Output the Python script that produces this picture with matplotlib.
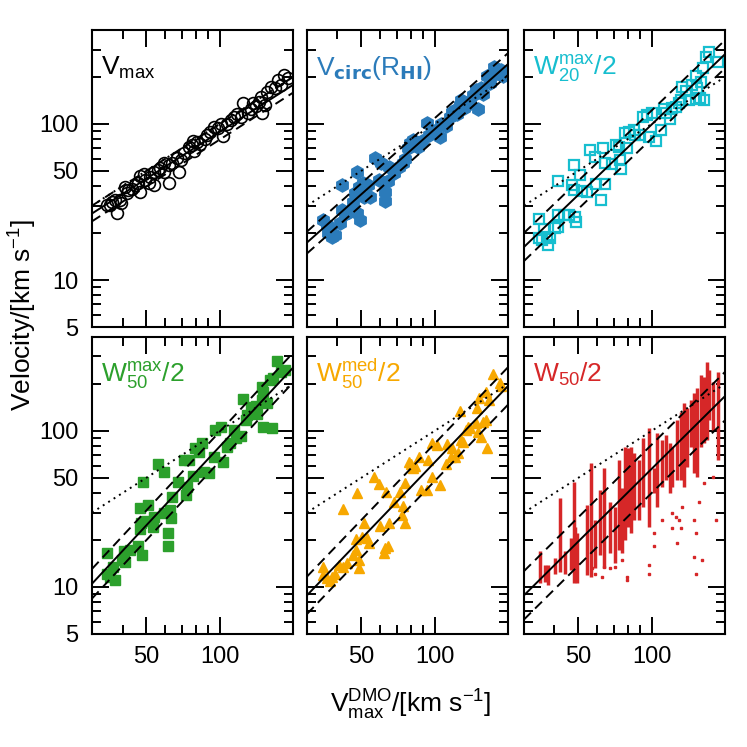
import matplotlib
matplotlib.use('Agg')
import matplotlib.pyplot as plt
from matplotlib.ticker import FixedLocator, FuncFormatter, NullFormatter

plt.rcParams['font.family'] = ['Liberation Sans', 'DejaVu Sans']
plt.rcParams['mathtext.default'] = 'regular'

# ---- data ----
# Vmax
vmax_x = [34.4, 36.1, 37.9, 35.6, 39.1, 41.0, 41.7, 43.7, 46.5, 47.3, 47.3, 49.6, 52.0, 54.0,
          55.7, 57.1, 59.0, 61.8, 61.8, 63.8, 67.9, 71.3, 74.8, 77.1, 78.3, 80.9, 83.5, 87.5,
          91.8, 94.8, 98.4, 103.5, 107.6, 111.0, 114.6, 122.0, 125.1, 130.8, 135.0, 140.6,
          145.2, 147.5, 149.9, 153.1, 157.0, 162.2, 168.3, 173.8, 178.2, 184.1, 190.1, 88.9,
          69.5, 48.8, 45.1, 42.3, 39.4, 53.6, 59.3, 77.8, 100.9, 117.5, 137.7, 66.9, 37.3, 51.6]
vmax_y = [30.3, 31.8, 27.0, 30.3, 32.6, 39.6, 35.9, 38.6, 41.6, 46.3, 36.8, 43.7, 45.9, 40.6,
          50.7, 52.0, 49.4, 54.6, 42.1, 56.0, 49.4, 64.9, 70.8, 73.3, 67.5, 76.9, 74.3, 79.6,
          89.1, 95.0, 93.8, 83.7, 99.8, 105.9, 111.4, 111.4, 135.5, 116.9, 124.1, 130.3,
          139.0, 149.6, 118.0, 132.1, 161.1, 173.4, 169.0, 191.4, 177.8, 206.1, 196.0, 84.9,
          58.7, 47.8, 40.6, 37.8, 31.0, 49.4, 56.5, 78.2, 99.8, 115.1, 136.8, 60.3, 32.6, 42.1]

# Vcirc(R_HI)
vcirc_x = [35.0, 36.1, 36.7, 37.9, 38.9, 41.0, 41.7, 41.7, 44.4, 46.5, 47.3, 48.1, 48.1, 48.8,
           49.6, 50.7, 51.6, 53.3, 54.6, 57.1, 59.0, 60.5, 62.5, 62.8, 64.4, 65.3, 68.4, 71.8,
           74.1, 75.5, 78.0, 79.6, 81.5, 84.1, 85.7, 88.5, 93.3, 94.8, 97.9, 100.9, 104.9,
           106.2, 111.0, 115.3, 117.5, 121.3, 124.2, 126.8, 128.8, 132.1, 136.5, 139.3, 143.9,
           147.5, 151.4, 155.2, 158.1, 164.8, 168.7, 175.8, 181.1, 187.1, 191.4, 43.0, 37.3]
vcirc_y = [24.2, 22.5, 19.9, 19.0, 19.4, 23.1, 28.1, 40.6, 27.4, 31.8, 35.9, 49.4, 26.7, 39.6,
           24.2, 42.1, 34.2, 40.6, 34.2, 60.3, 43.7, 56.0, 36.8, 32.2, 43.3, 53.2, 48.2, 52.7,
           56.0, 59.3, 69.8, 75.2, 78.9, 75.9, 70.8, 78.2, 100.9, 84.9, 91.4, 87.1, 82.0,
           100.0, 97.1, 111.4, 119.9, 122.8, 115.9, 132.1, 142.2, 125.9, 132.1, 135.5, 153.1,
           164.8, 124.1, 169.0, 155.6, 202.8, 183.7, 232.8, 210.9, 221.8, 202.8, 26.5, 21.4]

# W20max/2
w20_x = [34.6, 34.4, 35.5, 36.1, 37.2, 37.8, 38.4, 40.3, 41.3, 41.3, 41.5, 43.6, 45.7, 47.1,
         47.9, 47.9, 48.6, 49.0, 51.0, 51.9, 54.3, 56.1, 58.7, 59.4, 62.2, 63.1, 64.3, 64.3,
         68.9, 71.6, 73.8, 74.5, 75.3, 78.2, 79.4, 81.1, 84.5, 85.9, 89.3, 92.0, 95.9, 97.5,
         100.7, 104.0, 109.6, 112.5, 115.1, 118.6, 121.6, 126.5, 129.7, 132.4, 133.7, 138.0,
         142.6, 147.2, 151.7, 154.2, 157.6, 159.2, 161.8, 164.4, 167.1, 172.2, 186.6, 151.7]
w20_y = [24.5, 18.5, 18.0, 21.1, 19.0, 16.8, 18.5, 21.4, 22.0, 26.1, 43.3, 26.1, 26.1, 40.6,
         54.6, 37.8, 25.5, 23.4, 47.1, 37.3, 36.8, 68.1, 61.7, 41.2, 32.6, 69.8, 56.0, 41.2,
         55.3, 73.3, 70.8, 58.7, 51.2, 87.1, 69.8, 89.1, 91.4, 84.9, 84.9, 110.2, 114.0, 82.8,
         116.9, 78.2, 91.4, 124.1, 118.0, 106.9, 125.9, 127.6, 135.5, 142.2, 173.4, 163.3,
         142.2, 177.4, 202.8, 169.0, 145.9, 186.6, 227.0, 142.2, 269.8, 290.4, 250.6, 143.9]

# W50max/2
w50max_x = [34.4, 34.4, 35.6, 36.7, 37.3, 39.7, 40.6, 41.0, 43.0, 46.1, 48.0, 47.3, 47.5, 47.3,
            50.7, 48.5, 50.0, 53.6, 53.3, 55.7, 59.0, 59.0, 61.2, 61.2, 62.8, 63.2, 63.8, 67.3,
            71.3, 73.1, 73.6, 75.2, 77.8, 79.1, 82.2, 86.7, 90.4, 84.9, 95.3, 96.2, 100.9,
            103.2, 107.6, 110.2, 114.6, 116.4, 122.0, 124.5, 127.9, 130.0, 135.0, 140.6, 148.9,
            150.3, 149.9, 151.4, 157.0, 161.1, 163.3, 166.0, 171.8, 178.2, 185.4, 141.9]
w50max_y = [16.4, 12.2, 11.6, 13.5, 11.1, 14.9, 17.1, 14.5, 17.3, 18.2, 16.0, 23.4, 25.8, 31.9,
            33.6, 47.3, 26.6, 28.0, 24.1, 61.4, 29.6, 54.8, 22.3, 18.2, 31.1, 27.5, 37.9, 47.3,
            65.2, 38.9, 44.0, 65.2, 51.4, 77.4, 73.6, 54.8, 53.5, 84.1, 67.8, 101.4, 105.4,
            63.5, 79.3, 84.1, 101.4, 89.7, 92.9, 159.6, 117.5, 126.5, 141.6, 144.5, 192.3,
            178.6, 157.8, 106.7, 150.3, 212.3, 104.0, 217.3, 281.8, 239.9, 246.0, 128.5]

# W50med/2
w50med_x = [35.0, 35.0, 36.1, 37.3, 38.1, 38.9, 40.6, 42.0, 42.1, 43.7, 46.5, 47.5, 47.8, 48.1,
            48.8, 49.1, 50.4, 51.5, 52.8, 54.0, 56.6, 59.4, 60.0, 61.8, 62.5, 64.3, 63.2, 64.9,
            68.1, 72.4, 73.6, 74.3, 75.5, 76.0, 78.3, 80.2, 81.5, 82.8, 86.3, 88.1, 92.7, 94.0,
            97.2, 97.9, 102.6, 104.9, 111.0, 112.7, 116.4, 118.3, 120.8, 124.7, 126.8, 128.8,
            131.2, 134.3, 137.1, 139.3, 147.5, 149.9, 151.4, 152.4, 154.9, 158.1, 163.3, 163.3,
            164.8, 167.5, 173.8, 185.4, 187.5]
w50med_y = [13.5, 11.9, 11.4, 11.0, 11.6, 12.2, 13.8, 13.5, 31.5, 14.3, 16.0, 17.3, 20.2, 39.8,
            14.9, 13.2, 20.8, 25.8, 20.5, 19.1, 50.9, 45.7, 24.6, 16.4, 17.7, 18.3, 40.5, 25.6,
            35.2, 40.8, 28.9, 33.0, 25.8, 46.1, 63.5, 61.4, 57.5, 59.6, 67.8, 41.9, 41.9, 65.2,
            50.9, 83.4, 81.3, 45.1, 61.4, 82.4, 68.4, 77.4, 68.4, 71.9, 134.9, 87.5, 85.3,
            101.4, 106.4, 104.0, 111.9, 139.6, 98.9, 161.8, 91.8, 114.8, 117.5, 178.6, 77.4,
            157.8, 231.7, 203.7, 194.1]

# W50/2: range covered by each galaxy over viewing angles, plus stray values
w50_x = [34.9, 36.4, 37.8, 40.3, 42.0, 44.0, 46.9, 47.9, 48.6, 49.4, 54.3, 56.6, 58.8, 61.7,
         63.7, 67.8, 71.1, 73.8, 75.7, 78.2, 80.2, 82.0, 84.6, 88.7, 92.1, 97.5, 102.3, 105.5,
         110.7, 114.9, 118.6, 121.6, 127.6, 131.7, 135.9, 140.3, 144.9, 149.4, 154.2, 159.2,
         164.3, 169.6, 172.3, 177.8, 186.5]
w50_lo = [10.6, 10.8, 10.3, 12.2, 12.5, 12.2, 12.9, 10.6, 11.4, 10.6, 11.9, 11.6, 13.2, 16.0,
          13.2, 16.4, 14.2, 17.3, 16.4, 20.0, 24.4, 22.1, 26.9, 26.9, 32.7, 24.4, 39.8, 32.7,
          44.0, 48.5, 39.8, 44.0, 48.5, 48.5, 44.0, 59.0, 79.3, 53.5, 50.9, 79.3, 83.4, 87.5,
          118, 101, 65]
w50_hi = [16.9, 13.8, 13.8, 15.3, 37.0, 16.9, 20.5, 47.3, 24.4, 22.1, 33.6, 62.1, 26.9, 41.9,
          57.6, 35.2, 32.7, 65.2, 42.9, 79.3, 77.4, 79.3, 71.9, 65.2, 89.7, 104, 57.6, 96.6,
          87.5, 94.2, 83.4, 79.3, 118, 133, 150, 140, 158, 174, 188, 228, 223, 278, 246, 207, 240]
w50_out_x = [58.8, 62.7, 67.8, 75.7, 79.4, 79.4, 97.5, 97.5, 102.3, 102.3, 110.7, 120.8, 125.6,
             127.6, 129.7, 131.7, 133.7, 149.4, 151.7, 156.7, 160.7, 164.3, 149.4, 183.6, 177.8,
             151.7, 121.6, 71.1, 57.0, 63.7]
w50_out_y = [12.2, 11.6, 13.2, 14.9, 11.6, 11.1, 13.8, 12.2, 18.2, 22.1, 26.9, 29.9, 28.2, 19.1,
             26.9, 23.8, 32.7, 26.9, 22.1, 35.2, 14.9, 46.1, 15.6, 26.9, 50.9, 12.2, 23.8, 13.5,
             13.2, 13.5]

# fit lines: value at x=30 and x=200, and scatter (dex) for the dashed lines
xline = [30, 200]
fit_lo = [26.7, 17.4, 16.3, 10.5, 8.85, 8.85]
fit_hi = [178, 242, 280, 254, 194, 167]
fit_sig = [0.05, 0.07, 0.09, 0.095, 0.12, 0.155]

labels = [r'V$_{max}$', r'V$_{\mathbf{circ}}$(R$_{\mathbf{HI}}$)', r'W$^{max}_{20}$/2',
          r'W$^{max}_{50}$/2', r'W$^{med}_{50}$/2', r'W$_{50}$/2']
colors = ['black', '#2b7bba', '#17becf', '#2ca02c', '#f7a800', '#d62728']

fig = plt.figure(figsize=(7.47, 7.47), dpi=100)
lefts = [0.1232, 0.411, 0.7015]
bottoms = [0.5622, 0.1513]
w, h = 0.269, 0.3976

points = [(vmax_x, vmax_y), (vcirc_x, vcirc_y), (w20_x, w20_y),
          (w50max_x, w50max_y), (w50med_x, w50med_y)]
styles = [dict(marker='o', mfc='none', mec='black', ms=8.5, mew=1.2),
          dict(marker='h', mfc=colors[1], mec=colors[1], ms=9.5),
          dict(marker='s', mfc='none', mec=colors[2], ms=7, mew=1.6),
          dict(marker='s', mfc=colors[3], mec=colors[3], ms=6.5),
          dict(marker='^', mfc=colors[4], mec=colors[4], ms=7.5)]

for i in range(6):
    row, col = i // 3, i % 3
    ax = fig.add_axes([lefts[col], bottoms[row], w, h])
    ax.set_xscale('log')
    ax.set_yscale('log')

    if i < 5:
        ax.plot(points[i][0], points[i][1], ls='none', zorder=2, **styles[i])
    else:
        ax.vlines(w50_x, w50_lo, w50_hi, color=colors[5], lw=2.5, zorder=2)
        ax.plot(w50_out_x, w50_out_y, ls='none', marker='s', ms=1.6, color=colors[5], zorder=2)

    # 1:1, fit and scatter
    ax.plot(xline, xline, color='black', lw=1.4, dashes=(1, 2.3), zorder=3)
    yfit = [fit_lo[i], fit_hi[i]]
    ax.plot(xline, yfit, color='black', lw=1.4, zorder=3)
    for s in (1, -1):
        f = 10 ** (s * fit_sig[i])
        ax.plot(xline, [v * f for v in yfit], color='black', lw=1.4, dashes=(5, 3), zorder=3)

    ax.set_xlim(30, 200)
    ax.set_ylim(5, 400)
    ax.xaxis.set_major_locator(FixedLocator([50, 100]))
    ax.xaxis.set_minor_locator(FixedLocator([40, 60, 70, 80, 90]))
    ax.yaxis.set_major_locator(FixedLocator([5, 10, 50, 100]))
    ax.yaxis.set_minor_locator(FixedLocator([6, 7, 8, 9, 20, 30, 40, 60, 70, 80, 90, 200, 300]))
    ax.xaxis.set_major_formatter(FuncFormatter(lambda v, p: '%g' % v))
    ax.yaxis.set_major_formatter(FuncFormatter(lambda v, p: '%g' % v))
    ax.xaxis.set_minor_formatter(NullFormatter())
    ax.yaxis.set_minor_formatter(NullFormatter())
    ax.tick_params(which='both', direction='in', top=True, right=True, width=1.4,
                   labelsize=17, labelbottom=(row == 1), labelleft=(col == 0))
    ax.tick_params(which='major', length=12.5)
    ax.tick_params(which='minor', length=6.5)
    ax.tick_params(axis='x', pad=9)
    ax.tick_params(axis='y', pad=10)
    for sp in ax.spines.values():
        sp.set_linewidth(1.5)

    ax.text(0.045, 0.85, labels[i], transform=ax.transAxes, color=colors[i],
            fontsize=19, ha='left', va='baseline')

fig.text(0.03, 1 - 315 / 747, r'Velocity/[km s$^{-1}$]', rotation=90,
         ha='center', va='center', fontsize=19)
fig.text(411 / 747, 1 - 705 / 747, r'V$^{DMO}_{max}$/[km s$^{-1}$]',
         ha='center', va='center', fontsize=19)

fig.savefig('out.png', dpi=100)
